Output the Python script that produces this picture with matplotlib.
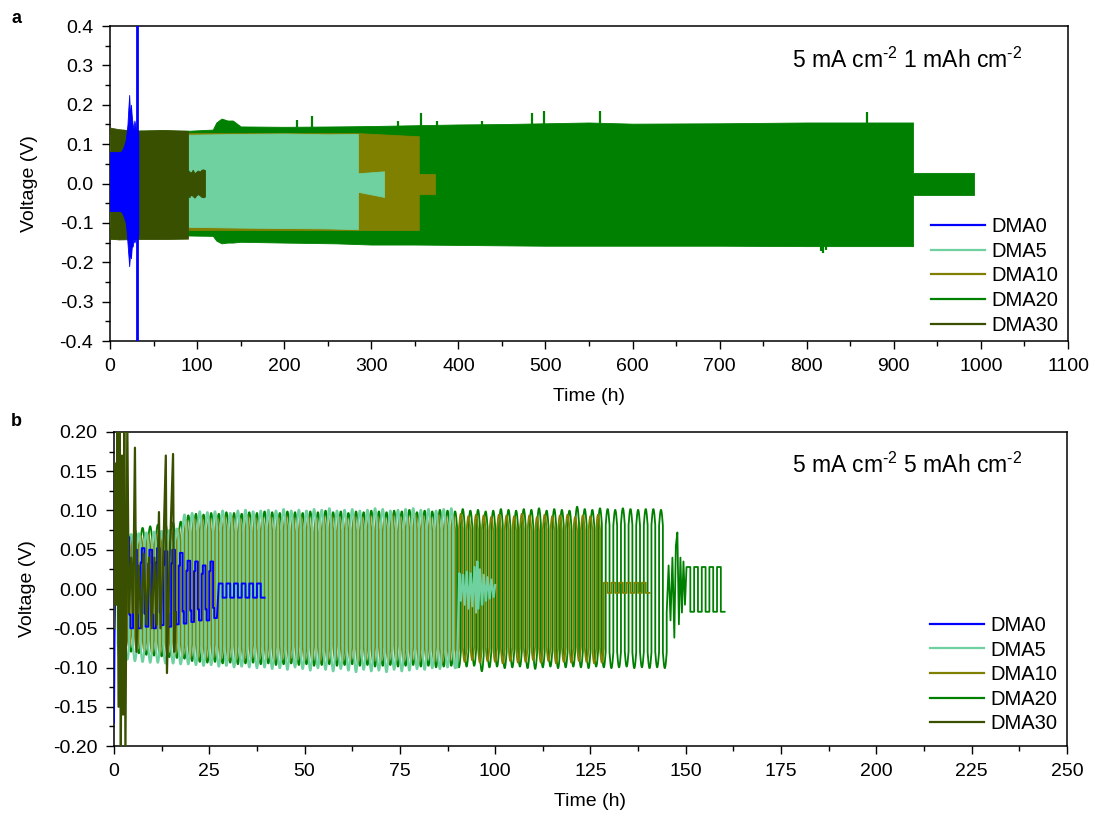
import numpy as np
import matplotlib.pyplot as plt
from matplotlib.lines import Line2D
from matplotlib.ticker import MultipleLocator, FormatStrFormatter

plt.rcParams['font.family'] = ['Liberation Sans', 'DejaVu Sans']
plt.rcParams['axes.unicode_minus'] = False

names = ['DMA0', 'DMA5', 'DMA10', 'DMA20', 'DMA30']
colors = ['#0000ff', '#6fd19f', '#808000', '#008000', '#385000']

# ---------------- panel a: 5 mA cm-2, 1 mAh cm-2 (envelope of dense cycling, V) ----------------
a_dma0_t = [0, 12, 14, 16, 18, 19, 20, 21, 22, 22.5, 23, 24, 25, 26, 27, 28, 30, 32.5]
a_dma0_hi = [0.08, 0.08, 0.085, 0.095, 0.11, 0.128, 0.15, 0.19, 0.225, 0.2, 0.16, 0.2, 0.17, 0.15, 0.14, 0.16, 0.135, 0.13]
a_dma0_lo = [-0.07, -0.07, -0.075, -0.085, -0.1, -0.12, -0.15, -0.18, -0.21, -0.195, -0.17, -0.19, -0.16, -0.16, -0.14, -0.15, -0.135, -0.13]
a_dma0_short_t = 31.5

a_dma5_t = [0, 90, 150, 200, 250, 284.6, 284.6, 314.6]
a_dma5_hi = [0.124, 0.124, 0.126, 0.127, 0.125, 0.126, 0.026, 0.031]
a_dma5_lo = [-0.11, -0.11, -0.112, -0.113, -0.114, -0.116, -0.021, -0.034]

a_dma10_t = [0, 285, 354.5, 354.5, 373]
a_dma10_hi = [0.129, 0.128, 0.12, 0.024, 0.024]
a_dma10_lo = [-0.118, -0.118, -0.118, -0.027, -0.027]

a_dma20_t = [0, 90, 118, 122, 128, 135, 141, 150, 200, 260, 300, 350, 400, 450, 500, 550,
             600, 700, 800, 922, 922, 992]
a_dma20_hi = [0.135, 0.134, 0.137, 0.155, 0.165, 0.16, 0.16, 0.145, 0.144, 0.145, 0.146, 0.148,
              0.15, 0.151, 0.153, 0.155, 0.152, 0.153, 0.155, 0.155, 0.027, 0.027]
a_dma20_lo = [-0.14, -0.132, -0.133, -0.145, -0.152, -0.15, -0.15, -0.148, -0.15, -0.152, -0.155,
              -0.155, -0.156, -0.157, -0.158, -0.158, -0.158, -0.158, -0.159, -0.159, -0.029, -0.029]
a_dma20_spike_t = [215, 232, 331, 357, 375, 427, 484, 498, 563, 816, 819, 822, 869]
a_dma20_spike_v = [0.162, 0.171, 0.16, 0.178, 0.16, 0.16, 0.179, 0.184, 0.183, -0.172, -0.177, -0.17, 0.181]

a_dma30_t = [0, 10, 30, 60, 89.5, 89.5, 91, 93, 95, 97, 99, 101, 103, 105, 107, 109]
a_dma30_hi = [0.142, 0.138, 0.134, 0.136, 0.134, 0.035, 0.03, 0.028, 0.035, 0.026, 0.03, 0.033,
              0.03, 0.035, 0.036, 0.034]
a_dma30_lo = [-0.14, -0.142, -0.141, -0.141, -0.14, -0.03, -0.035, -0.028, -0.032, -0.036, -0.03,
              -0.027, -0.03, -0.034, -0.035, -0.033]

# ---------------- panel b: 5 mA cm-2, 5 mAh cm-2 (per-cycle peaks, mV; 2 h per cycle) ----------------
b_dma0_start_t = [0, 0.15, 0.4, 0.8]
b_dma0_start_v = [-0.17, -0.06, 0.02, 0.02]
b_dma0_t0 = 1.0
b_dma0_top = [62, 66, 50, 52, 50, 52, 48, 50, 46, 36, 35, 30, 35]
b_dma0_bot = [-52, -50, -50, -48, -50, -46, -48, -45, -44, -42, -40, -40, -37]
b_dma0_tail_t0 = 27.5
b_dma0_tail_top = [7, 7, 7, 7, 7, 7]
b_dma0_tail_bot = [-11, -11, -11, -11, -11, -11]

b_dma5_t0 = 0.0
b_dma5_top = [66, 68, 70, 71, 72, 73, 74, 75, 77, 95,
              97, 99, 98, 99, 100, 97, 100, 101, 99, 100,
              101, 100, 102, 100, 101, 100, 102, 101, 103, 100,
              101, 102, 100, 101, 103, 102, 100, 101, 102, 103,
              101, 102, 100, 102, 103]
b_dma5_bot = [-88, -90, -92, -93, -94, -94, -95, -95, -96, -96,
              -97, -98, -97, -99, -98, -100, -99, -100, -101, -100,
              -102, -101, -103, -100, -102, -104, -101, -103, -105, -102,
              -104, -106, -103, -105, -104, -106, -103, -105, -104, -102,
              -103, -101, -102, -100, -101]
b_dma5_tail_t = [90.0, 90.6, 91.0, 91.6, 92.0, 92.6, 93.0, 93.6, 94.0, 94.6, 95.0, 95.3, 95.6,
                 96.0, 96.6, 97.0, 97.6, 98.0, 98.6, 99.0, 99.6, 100.0]
b_dma5_tail_v = [-0.1, 0.02, -0.015, 0.018, -0.02, 0.022, -0.025, 0.02, -0.022, 0.028, -0.03,
                 0.035, -0.025, 0.025, -0.02, 0.018, -0.015, 0.015, -0.012, 0.012, -0.01, 0.005]

b_dma10_t0 = 0.5
b_dma10_top = [60, 64, 66, 68, 70, 70, 72, 74, 76, 88,
               90, 92, 90, 91, 93, 92, 90, 94, 92, 91,
               93, 92, 94, 91, 93, 92, 90, 93, 94, 92,
               91, 93, 92, 94, 93, 91, 95, 92, 93, 96,
               94, 92, 95, 93, 94, 96, 93, 95, 94, 92,
               95, 94, 93, 96, 94, 92, 95, 93, 94, 95,
               92, 94, 93, 95]
b_dma10_bot = [-70, -74, -78, -80, -82, -83, -84, -85, -86, -88,
               -89, -90, -88, -90, -91, -90, -92, -89, -91, -90,
               -92, -91, -93, -90, -92, -91, -93, -92, -90, -93,
               -92, -94, -91, -93, -92, -94, -90, -93, -92, -94,
               -91, -93, -95, -92, -94, -93, -91, -94, -92, -93,
               -95, -92, -94, -93, -91, -94, -92, -95, -93, -94,
               -92, -93, -95, -94]
b_dma10_tail_t0 = 128.5
b_dma10_tail_top = [8, 8, 8, 8, 8, 8]
b_dma10_tail_bot = [-5, -5, -5, -5, -5, -5]

b_dma20_t0 = 1.0
b_dma20_top = [70, 74, 76, 78, 80, 82, 84, 85, 86, 94,
               96, 95, 97, 96, 98, 97, 96, 98, 97, 99,
               98, 97, 99, 98, 97, 99, 98, 100, 98, 99,
               97, 99, 98, 100, 99, 98, 100, 99, 101, 98,
               100, 99, 101, 100, 99, 102, 100, 101, 99, 100,
               102, 101, 100, 102, 101, 103, 100, 102, 101, 100,
               105, 102, 101, 103, 102, 101, 103, 102, 101, 102,
               102, 101]
b_dma20_bot = [-76, -80, -82, -84, -85, -86, -87, -88, -89, -92,
               -93, -94, -93, -95, -94, -96, -95, -94, -96, -95,
               -97, -96, -95, -97, -96, -98, -97, -96, -98, -97,
               -96, -98, -97, -99, -98, -97, -99, -98, -97, -99,
               -98, -100, -99, -98, -100, -99, -98, -105, -100, -99,
               -101, -100, -99, -101, -102, -100, -99, -101, -100, -99,
               -100, -101, -99, -100, -101, -100, -99, -101, -100, -101,
               -100, -101]
b_dma20_mid_t = [145.0, 145.5, 146.0, 146.5, 147.0, 147.4, 147.8, 148.2, 148.6, 149.0, 149.4, 149.8, 150.2]
b_dma20_mid_v = [-0.03, 0.03, -0.04, 0.04, -0.062, 0.055, 0.072, -0.045, 0.04, -0.03, 0.035, -0.02, 0.028]
b_dma20_tail_t0 = 150.2
b_dma20_tail_top = [28, 28, 28, 28, 28]
b_dma20_tail_bot = [-29, -29, -29, -29, -29]

b_dma30_t = [0.0, 0.3, 0.6, 0.9, 1.2, 1.5, 1.8, 2.1, 2.4, 2.7, 3.0, 3.5, 3.9, 4.5, 5.0, 5.5, 5.9,
             6.5, 7.2, 7.8, 8.5, 9.2, 9.9, 10.6, 11.2, 11.8, 12.2, 12.8, 13.6, 13.9, 14.5, 15.5,
             15.8, 16.2]
b_dma30_v = [-0.05, 0.16, -0.02, 0.21, -0.15, 0.21, -0.21, 0.17, -0.16, 0.21, -0.21, 0.21, -0.03,
             0.04, -0.03, 0.18, -0.08, 0.03, -0.05, 0.045, -0.045, 0.04, -0.05, 0.04, -0.045,
             0.098, -0.05, 0.02, 0.17, -0.107, 0.02, 0.172, -0.08, -0.03]


def cycles(t0, tops_mv, bots_mv, kind):
    # one charge half (1 h) then one discharge half (1 h) per cycle
    if kind == 'round':
        u = np.linspace(0, 1, 10)
        f = 0.8 + 0.2 * np.sin(np.pi * u)
    elif kind == 'step':
        u = np.array([0, 0.3, 0.3, 1])
        f = np.array([0.65, 0.65, 1, 1])
    else:
        u = np.array([0, 1])
        f = np.array([1, 1])
    ts, vs = [], []
    for i, (hi, lo) in enumerate(zip(tops_mv, bots_mv)):
        start = t0 + 2 * i
        ts.extend(start + u)
        vs.extend(hi / 1000 * f)
        ts.extend(start + 1 + u)
        vs.extend(lo / 1000 * f)
    return np.array(ts), np.array(vs)


def style_axes(ax, xmaj, ymaj, fmt):
    ax.xaxis.set_major_locator(MultipleLocator(xmaj))
    ax.xaxis.set_minor_locator(MultipleLocator(xmaj / 2))
    ax.yaxis.set_major_locator(MultipleLocator(ymaj))
    ax.yaxis.set_minor_locator(MultipleLocator(ymaj / 2))
    ax.yaxis.set_major_formatter(FormatStrFormatter(fmt))
    ax.tick_params(which='both', direction='out', top=False, right=False, width=1,
                   labelsize=14, pad=6)
    ax.tick_params(which='major', length=6)
    ax.tick_params(which='minor', length=3.5)
    for s in ax.spines.values():
        s.set_linewidth(1.1)


# superscript with a plain hyphen, as in the original figure
SUP = r'$^{\mathregular{‐2}}$'

fig = plt.figure(figsize=(10.97, 8.18), dpi=100)
ax1 = fig.add_axes([0.1003, 0.5831, 0.8733, 0.3851])
ax2 = fig.add_axes([0.1039, 0.0880, 0.8687, 0.3839])

# ---- panel a ----
def band(ax, t, hi, lo, color, z):
    ax.fill_between(t, lo, hi, color=color, lw=0.6, edgecolor=color, zorder=z)

band(ax1, a_dma20_t, a_dma20_hi, a_dma20_lo, colors[3], 1)
ax1.vlines(a_dma20_spike_t, 0, a_dma20_spike_v, color=colors[3], lw=1.6, zorder=1)
band(ax1, a_dma10_t, a_dma10_hi, a_dma10_lo, colors[2], 2)
band(ax1, a_dma5_t, a_dma5_hi, a_dma5_lo, colors[1], 3)
band(ax1, a_dma30_t, a_dma30_hi, a_dma30_lo, colors[4], 4)
band(ax1, a_dma0_t, a_dma0_hi, a_dma0_lo, colors[0], 5)
ax1.axvline(a_dma0_short_t, color=colors[0], lw=2.0, zorder=6)

ax1.set_xlim(0, 1100)
ax1.set_ylim(-0.4, 0.4)
style_axes(ax1, 100, 0.1, '%.1f')
ax1.set_xlabel('Time (h)', fontsize=14)
ax1.set_ylabel('Voltage (V)', fontsize=14)
ax1.xaxis.set_label_coords(0.5, -0.15)
ax1.yaxis.set_label_coords(-0.075, 0.5)
ax1.text(0.832, 0.892, '5 mA cm' + SUP + ' 1 mAh cm' + SUP, transform=ax1.transAxes,
         ha='center', va='center', fontsize=16.5)

# ---- panel b ----
t20, v20 = cycles(b_dma20_t0, b_dma20_top, b_dma20_bot, 'round')
t20b, v20b = cycles(b_dma20_tail_t0, b_dma20_tail_top, b_dma20_tail_bot, 'square')
ax2.plot(np.concatenate([t20, b_dma20_mid_t, t20b]), np.concatenate([v20, b_dma20_mid_v, v20b]),
         color=colors[3], lw=1.3, zorder=1)

t10, v10 = cycles(b_dma10_t0, b_dma10_top, b_dma10_bot, 'round')
t10b, v10b = cycles(b_dma10_tail_t0, b_dma10_tail_top, b_dma10_tail_bot, 'square')
ax2.plot(np.concatenate([t10, t10b]), np.concatenate([v10, v10b]),
         color=colors[2], lw=1.3, zorder=2)

t5, v5 = cycles(b_dma5_t0, b_dma5_top, b_dma5_bot, 'round')
ax2.plot(np.concatenate([t5, b_dma5_tail_t]), np.concatenate([v5, b_dma5_tail_v]),
         color=colors[1], lw=1.6, zorder=3)

t0c, v0c = cycles(b_dma0_t0, b_dma0_top, b_dma0_bot, 'step')
t0d, v0d = cycles(b_dma0_tail_t0, b_dma0_tail_top, b_dma0_tail_bot, 'square')
ax2.plot(np.concatenate([b_dma0_start_t, t0c, t0d]), np.concatenate([b_dma0_start_v, v0c, v0d]),
         color=colors[0], lw=1.4, zorder=4)

ax2.plot(b_dma30_t, b_dma30_v, color=colors[4], lw=1.6, zorder=5)

ax2.set_xlim(0, 250)
ax2.set_ylim(-0.2, 0.2)
style_axes(ax2, 25, 0.05, '%.2f')
ax2.set_xlabel('Time (h)', fontsize=14)
ax2.set_ylabel('Voltage (V)', fontsize=14)
ax2.xaxis.set_label_coords(0.5, -0.15)
ax2.yaxis.set_label_coords(-0.082, 0.5)
ax2.text(0.832, 0.895, '5 mA cm' + SUP + ' 5 mAh cm' + SUP, transform=ax2.transAxes,
         ha='center', va='center', fontsize=16.5)

# legends
handles = [Line2D([], [], color=c, lw=1.6) for c in colors]
ax1.legend(handles, names, loc='lower right', bbox_to_anchor=(0.99, 0.02), frameon=False,
           fontsize=14.5, handlelength=2.7, handletextpad=0.3, labelspacing=0.28,
           borderpad=0, borderaxespad=0)
ax2.legend(handles, names, loc='lower right', bbox_to_anchor=(0.99, 0.04), frameon=False,
           fontsize=14.5, handlelength=2.7, handletextpad=0.3, labelspacing=0.28,
           borderpad=0, borderaxespad=0)

fig.text(0.0146, 0.977, 'a', fontsize=13, fontweight='bold', ha='center', va='center')
fig.text(0.0146, 0.485, 'b', fontsize=13, fontweight='bold', ha='center', va='center')

fig.savefig('out.png', dpi=100)
